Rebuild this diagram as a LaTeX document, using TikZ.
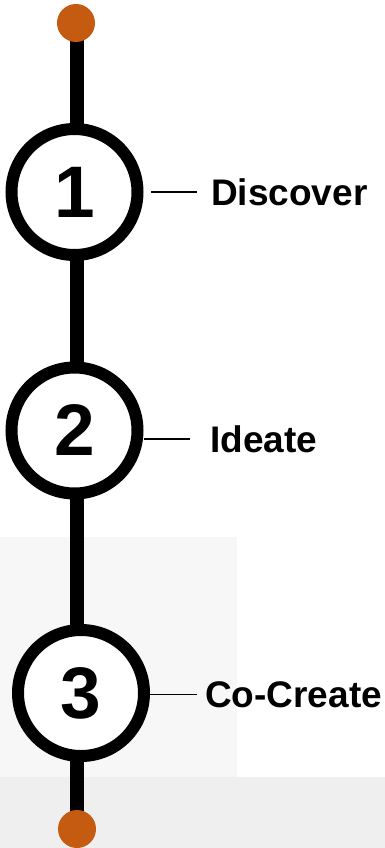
\documentclass[tikz,border=0pt]{standalone}
\usepackage{fontspec}
\setmainfont{Liberation Sans}
\usetikzlibrary{calc}
\definecolor{rust}{RGB}{197,90,17}
\definecolor{panelgrey}{RGB}{247,247,247}
\definecolor{bandgrey}{RGB}{239,239,239}
\begin{document}
\begin{tikzpicture}[x=1pt,y=-1pt,
  spine/.style={line width=14pt,draw=black},
  stage/.style={circle,draw=black,line width=12pt,fill=white,minimum size=126pt,inner sep=0pt,
    font=\fontsize{73}{80}\selectfont\bfseries},
  enddot/.style={circle,fill=rust,minimum size=38pt,inner sep=0pt},
  lbl/.style={anchor=base west,inner sep=0pt,font=\fontsize{37}{42}\selectfont\bfseries},
  tick/.style={line width=1.5pt,draw=black}]
\useasboundingbox (0,0) rectangle (385,848);
% background panels
\fill[panelgrey] (0,537) rectangle (237,777);
\fill[bandgrey] (0,777) rectangle (385,848);
% spine and end markers
\coordinate (stop) at (77,23);
\coordinate (sbot) at (77,829);
\draw[spine] (stop) -- (sbot);
\node[enddot] (d1) at (76,23) {};
\node[enddot] (d2) at (77,829) {};
% stages
\node[stage] (c1) at (74.5,192) {1};
\node[stage] (c2) at (74.5,430.5) {2};
\node[stage] (c3) at (81,693) {3};
% labels
\node[lbl] (l1) at (211,205) {Discover};
\node[lbl] (l2) at (210,452) {Ideate};
\node[lbl] (l3) at (205,707) {Co-Create};
% leader lines
\draw[tick] ([xshift=-60pt]l1.west) -- ([xshift=-14pt]l1.west);
\draw[tick] ([xshift=-66pt]l2.west) -- ([xshift=-20pt]l2.west);
\draw[tick] ([xshift=-55pt]l3.west) -- ([xshift=-8pt]l3.west);
\end{tikzpicture}
\end{document}
